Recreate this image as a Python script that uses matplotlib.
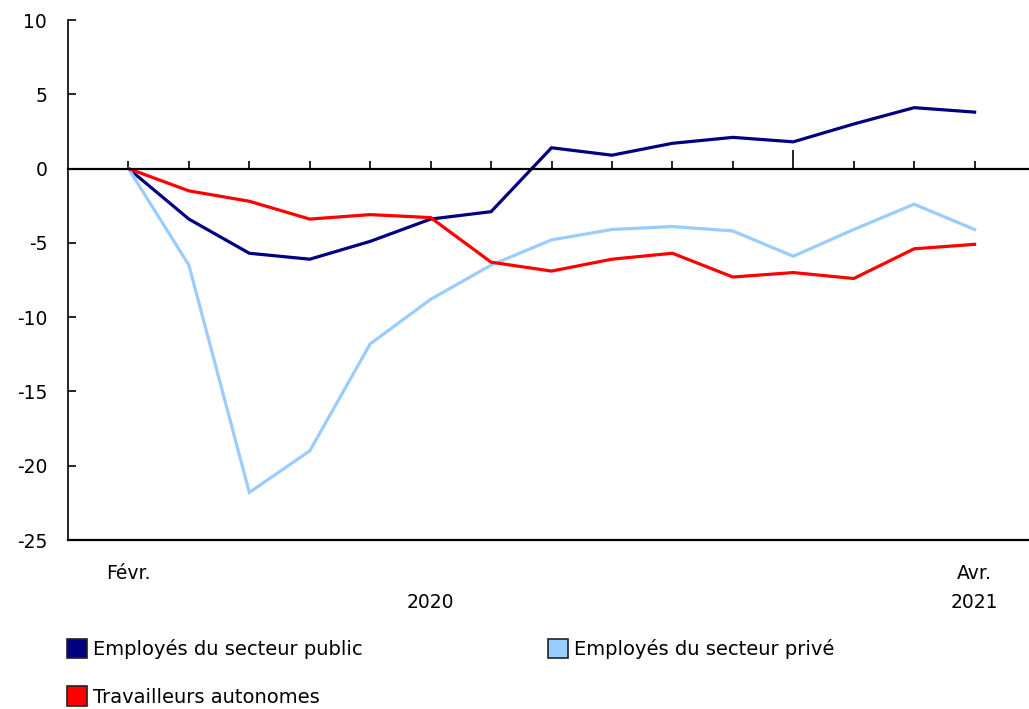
import matplotlib
matplotlib.use("Agg")
import matplotlib.pyplot as plt
from matplotlib.patches import Patch
from matplotlib.transforms import blended_transform_factory

# Monthly change since February 2020 (%), Feb 2020 .. Apr 2021
months = ["Févr.", "Mars", "Avr.", "Mai", "Juin", "Juil.", "Août", "Sept.",
          "Oct.", "Nov.", "Déc.", "Janv.", "Févr.", "Mars", "Avr."]
public = [0.0, -3.4, -5.7, -6.1, -4.9, -3.4, -2.9, 1.4, 0.9, 1.7, 2.1, 1.8, 3.0, 4.1, 3.8]
private = [0.0, -6.5, -21.8, -19.0, -11.8, -8.8, -6.5, -4.8, -4.1, -3.9, -4.2, -5.9, -4.1, -2.4, -4.1]
self_emp = [0.0, -1.5, -2.2, -3.4, -3.1, -3.3, -6.3, -6.9, -6.1, -5.7, -7.3, -7.0, -7.4, -5.4, -5.1]

series_names = ["Employés du secteur public", "Employés du secteur privé", "Travailleurs autonomes"]
colors = ["#000080", "#99CCFF", "#FF0000"]

plt.rcParams["font.family"] = ["DejaVu Sans"]
plt.rcParams["axes.unicode_minus"] = False

fig = plt.figure(figsize=(10.29, 7.09), dpi=100)
ax = fig.add_axes([68 / 1029, 1 - 540 / 709, 1 - 68 / 1029, 520 / 709])

x = list(range(len(months)))
for vals, col, name in zip([public, private, self_emp], colors, series_names):
    ax.plot(x, vals, color=col, linewidth=2.3, label=name, solid_joinstyle="miter")

ax.set_xlim(-1, 14.9)
ax.set_ylim(-25, 10)
ax.set_yticks(range(-25, 11, 5))
ax.tick_params(axis="y", direction="in", length=6, width=1.2, pad=15, labelsize=13.5)

# x axis drawn on the zero line, ticks pointing up
for side in ["top", "right"]:
    ax.spines[side].set_visible(False)
ax.spines["bottom"].set_position(("data", 0))
ax.spines["bottom"].set_linewidth(1.6)
ax.spines["left"].set_linewidth(1.2)
ax.set_xticks([i for i in x if i != 11])
ax.set_xticks([11], minor=True)
ax.tick_params(axis="x", which="major", direction="in", length=6, width=1.2, labelbottom=False)
ax.tick_params(axis="x", which="minor", direction="in", length=14, width=1.2, labelbottom=False)
ax.axhline(-25, color="black", linewidth=1.6, clip_on=False)

trans = blended_transform_factory(ax.transData, ax.transAxes)
ax.text(0, -0.0635, months[0], transform=trans, ha="center", va="center", fontsize=13.5)
ax.text(14, -0.0635, months[-1], transform=trans, ha="center", va="center", fontsize=13.5)
ax.text(5, -0.121, "2020", transform=trans, ha="center", va="center", fontsize=13.5)
ax.text(14, -0.121, "2021", transform=trans, ha="center", va="center", fontsize=13.5)

# legend laid out row by row: public | private, then self-employed
order = [0, 2, 1]
handles = [Patch(facecolor=colors[i], edgecolor="#222222", linewidth=1.2) for i in order]
labels = [series_names[i] for i in order]
fig.legend(handles, labels, loc="upper left",
           bbox_to_anchor=(67 / 1029, 1 - 639 / 709), ncol=2, frameon=False,
           fontsize=14, handlelength=1.05, handleheight=1.15, handletextpad=0.3,
           labelspacing=1.4, columnspacing=9.5, borderpad=0, borderaxespad=0)

fig.savefig("out.png", dpi=100)
